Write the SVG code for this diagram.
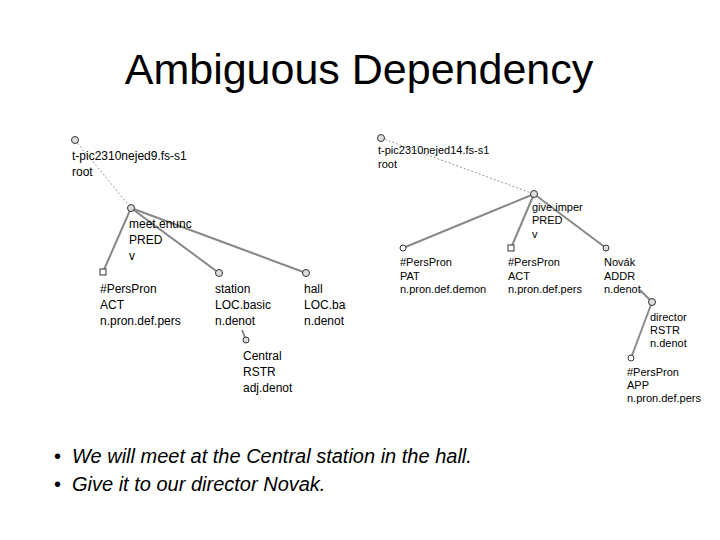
<svg xmlns="http://www.w3.org/2000/svg" width="720" height="540" viewBox="0 0 720 540">
<style>
.t{font-family:"Liberation Sans",Arial,sans-serif;fill:#000}
.s{font-size:12px}.r{font-size:11px}
.e{stroke:#888;stroke-width:2;fill:none}
.d{stroke:#999;stroke-width:1;stroke-dasharray:2,2;fill:none}
.n{fill:#ddd;stroke:#333;stroke-width:1}
.w{fill:#fff;stroke:#333;stroke-width:1}
</style>
<defs><clipPath id="c"><rect x="0" y="0" width="346" height="540"/></clipPath></defs>
<rect width="720" height="540" fill="#fff"/>
<text class="t" x="359" y="84" font-size="43" text-anchor="middle">Ambiguous Dependency</text>
<g id="connectors">
<line class="d" x1="75" y1="140" x2="131" y2="208"/>
<line class="e" x1="131" y1="208" x2="103" y2="272"/>
<line class="e" x1="131" y1="208" x2="219" y2="273"/>
<line class="e" x1="131" y1="208" x2="306" y2="273"/>
<line class="e" x1="242" y1="330" x2="246" y2="340"/>
<line class="d" x1="381" y1="138" x2="534" y2="194"/>
<line class="e" x1="534" y1="194" x2="403" y2="248"/>
<line class="e" x1="534" y1="194" x2="511" y2="248"/>
<line class="e" x1="534" y1="194" x2="606" y2="248"/>
<line class="e" x1="640" y1="290" x2="652" y2="302"/>
<line class="e" x1="652" y1="302" x2="631" y2="358"/>
</g>
<g clip-path="url(#c)">
<g id="root1"><circle class="n" cx="75" cy="140" r="3.5"/><text class="t s" x="72" y="160">t-pic2310nejed9.fs-s1</text><text class="t s" x="72" y="176">root</text></g>
<g id="meet"><circle class="n" cx="131" cy="208" r="3.5"/><text class="t s" x="129" y="228">meet.enunc</text><text class="t s" x="129" y="244">PRED</text><text class="t s" x="129" y="260">v</text></g>
<g id="pers1"><rect class="w" x="100" y="269" width="6" height="6"/><text class="t s" x="100" y="293">#PersPron</text><text class="t s" x="100" y="309">ACT</text><text class="t s" x="100" y="325">n.pron.def.pers</text></g>
<g id="station"><circle class="n" cx="219" cy="273" r="3.5"/><text class="t s" x="215" y="293">station</text><text class="t s" x="215" y="309">LOC.basic</text><text class="t s" x="215" y="325">n.denot</text></g>
<g id="hall"><circle class="n" cx="306" cy="273" r="3.5"/><text class="t s" x="304" y="293">hall</text><text class="t s" x="304" y="309">LOC.basic</text><text class="t s" x="304" y="325">n.denot</text></g>
<g id="central"><circle class="n" cx="246" cy="340" r="3"/><text class="t s" x="243" y="360">Central</text><text class="t s" x="243" y="376">RSTR</text><text class="t s" x="243" y="392">adj.denot</text></g>
</g>
<g id="root2"><circle class="n" cx="381" cy="138" r="3.5"/><text class="t r" x="378" y="154">t-pic2310nejed14.fs-s1</text><text class="t r" x="378" y="168">root</text></g>
<g id="give"><circle class="n" cx="534" cy="194" r="3.5"/><text class="t r" x="532" y="211">give.imper</text><text class="t r" x="532" y="224">PRED</text><text class="t r" x="532" y="238">v</text></g>
<g id="pat"><circle class="w" cx="403" cy="248" r="3"/><text class="t r" x="400" y="266">#PersPron</text><text class="t r" x="400" y="280">PAT</text><text class="t r" x="400" y="293">n.pron.def.demon</text></g>
<g id="act"><rect class="w" x="508" y="245" width="6" height="6"/><text class="t r" x="508" y="266">#PersPron</text><text class="t r" x="508" y="280">ACT</text><text class="t r" x="508" y="293">n.pron.def.pers</text></g>
<g id="novak"><circle class="n" cx="606" cy="248" r="3"/><text class="t r" x="604" y="266">Novák</text><text class="t r" x="604" y="280">ADDR</text><text class="t r" x="604" y="293">n.denot</text></g>
<g id="director"><circle class="n" cx="652" cy="302" r="3.5"/><text class="t r" x="650" y="321">director</text><text class="t r" x="650" y="334">RSTR</text><text class="t r" x="650" y="347">n.denot</text></g>
<g id="app"><circle class="w" cx="631" cy="358" r="3"/><text class="t r" x="627" y="376">#PersPron</text><text class="t r" x="627" y="389">APP</text><text class="t r" x="627" y="402">n.pron.def.pers</text></g>
<g id="bullets" class="t" font-size="20">
<text x="54" y="463">•</text><text x="72" y="463" font-style="italic">We will meet at the Central station in the hall.</text>
<text x="54" y="491">•</text><text x="72" y="491" font-style="italic">Give it to our director Novak.</text>
</g>
</svg>
